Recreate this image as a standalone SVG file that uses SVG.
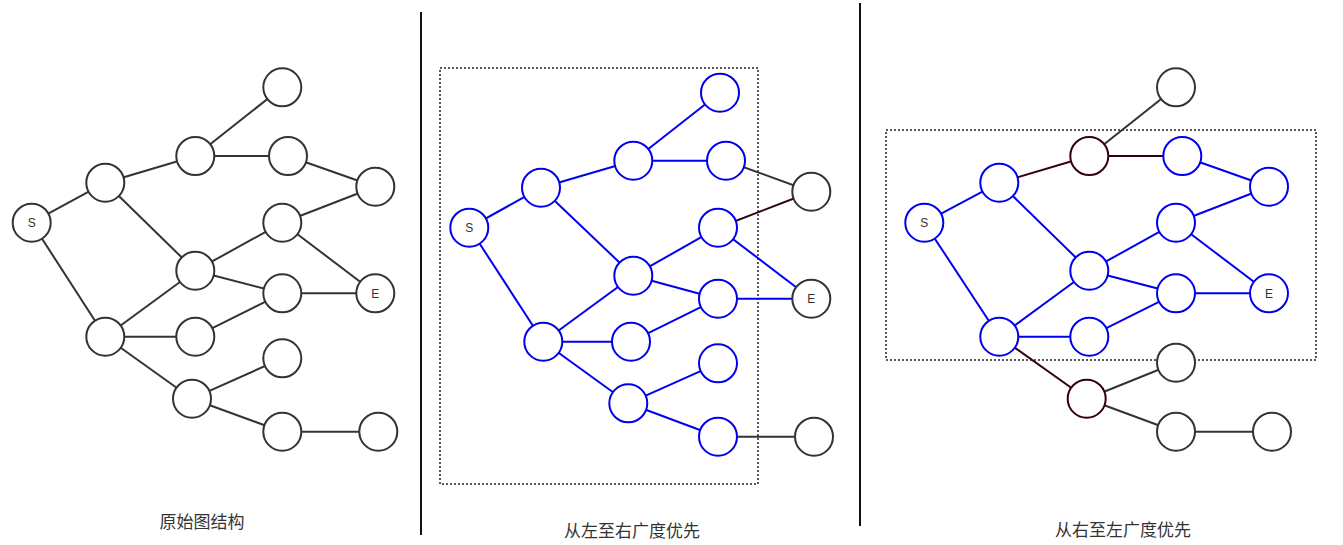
<svg xmlns="http://www.w3.org/2000/svg" width="1343" height="545" viewBox="0 0 1343 545">
<style>
.n{fill:#fff;stroke:#333;stroke-width:2}
.nb{fill:#fff;stroke:#0000ee;stroke-width:2}
.nm{fill:#fff;stroke:#330011;stroke-width:2}
.e{stroke:#333;stroke-width:2;fill:none}
.eb{stroke:#0000ee;stroke-width:2;fill:none}
.em{stroke:#330011;stroke-width:2;fill:none}
.t{font-family:"Liberation Sans","Noto Sans CJK SC",sans-serif;font-size:12px;fill:#333;text-anchor:middle}
.cap{font-family:"Noto Sans CJK SC","Liberation Sans",sans-serif;font-size:17px;fill:#333;text-anchor:middle}
.box{fill:none;stroke:#222;stroke-width:1.5;stroke-dasharray:2 2}
.sep{stroke:#111;stroke-width:2}
</style>
<rect width="1343" height="545" fill="#fff"/>
<g id="separators">
<line class="sep" x1="421" y1="12" x2="421" y2="535"/>
<line class="sep" x1="860" y1="3" x2="860" y2="526"/>
</g>
<g id="boxes">
<rect class="box" x="440" y="68" width="318" height="416"/>
<rect class="box" x="886" y="130" width="430" height="230"/>
</g>
<g id="connectors">
<!-- panel 1 -->
<line class="e" x1="31.7" y1="222.7" x2="105.3" y2="182.7"/>
<line class="e" x1="31.7" y1="222.7" x2="105.3" y2="336.7"/>
<line class="e" x1="105.3" y1="182.7" x2="195.3" y2="156"/>
<line class="e" x1="105.3" y1="182.7" x2="195.3" y2="270.7"/>
<line class="e" x1="195.3" y1="156" x2="282.3" y2="87.3"/>
<line class="e" x1="195.3" y1="156" x2="288" y2="156"/>
<line class="e" x1="288" y1="156" x2="375.3" y2="186.7"/>
<line class="e" x1="282.3" y1="222.7" x2="375.3" y2="186.7"/>
<line class="e" x1="282.3" y1="222.7" x2="375.3" y2="293.3"/>
<line class="e" x1="195.3" y1="270.7" x2="282.3" y2="222.7"/>
<line class="e" x1="195.3" y1="270.7" x2="282.3" y2="293.3"/>
<line class="e" x1="282.3" y1="293.3" x2="375.3" y2="293.3"/>
<line class="e" x1="105.3" y1="336.7" x2="195.3" y2="270.7"/>
<line class="e" x1="105.3" y1="336.7" x2="195.3" y2="336.7"/>
<line class="e" x1="195.3" y1="336.7" x2="282.3" y2="293.3"/>
<line class="e" x1="105.3" y1="336.7" x2="192" y2="398.7"/>
<line class="e" x1="192" y1="398.7" x2="282.3" y2="358.3"/>
<line class="e" x1="192" y1="398.7" x2="282.3" y2="431.7"/>
<line class="e" x1="282.3" y1="431.7" x2="378.3" y2="431.7"/>
<!-- panel 2 -->
<line class="eb" x1="469.3" y1="227.7" x2="541" y2="187.7"/>
<line class="eb" x1="469.3" y1="227.7" x2="543.3" y2="341.7"/>
<line class="eb" x1="541" y1="187.7" x2="633.3" y2="160.7"/>
<line class="eb" x1="541" y1="187.7" x2="633.3" y2="275.7"/>
<line class="eb" x1="633.3" y1="160.7" x2="720" y2="92.7"/>
<line class="eb" x1="633.3" y1="160.7" x2="726" y2="160.7"/>
<line class="e" x1="726" y1="160.7" x2="811.3" y2="191.7"/>
<line class="em" x1="718" y1="227.7" x2="811.3" y2="191.7"/>
<line class="eb" x1="718" y1="227.7" x2="811.3" y2="298.7"/>
<line class="eb" x1="633.3" y1="275.7" x2="718" y2="227.7"/>
<line class="eb" x1="633.3" y1="275.7" x2="718" y2="298.7"/>
<line class="eb" x1="718" y1="298.7" x2="811.3" y2="298.7"/>
<line class="eb" x1="543.3" y1="341.7" x2="633.3" y2="275.7"/>
<line class="eb" x1="543.3" y1="341.7" x2="631" y2="341.7"/>
<line class="eb" x1="631" y1="341.7" x2="718" y2="298.7"/>
<line class="eb" x1="543.3" y1="341.7" x2="628.3" y2="403.3"/>
<line class="eb" x1="628.3" y1="403.3" x2="718" y2="363.3"/>
<line class="eb" x1="628.3" y1="403.3" x2="718" y2="436.7"/>
<line class="e" x1="718" y1="436.7" x2="814" y2="436.7"/>
<!-- panel 3 -->
<line class="eb" x1="924.3" y1="222.7" x2="999.3" y2="182.7"/>
<line class="eb" x1="924.3" y1="222.7" x2="999.3" y2="336.7"/>
<line class="em" x1="999.3" y1="182.7" x2="1089.3" y2="156"/>
<line class="eb" x1="999.3" y1="182.7" x2="1089.3" y2="270.7"/>
<line class="e" x1="1089.3" y1="156" x2="1176" y2="87.3"/>
<line class="em" x1="1089.3" y1="156" x2="1182.3" y2="156"/>
<line class="eb" x1="1182.3" y1="156" x2="1269" y2="186.7"/>
<line class="eb" x1="1176" y1="222.7" x2="1269" y2="186.7"/>
<line class="eb" x1="1176" y1="222.7" x2="1269" y2="293.3"/>
<line class="eb" x1="1089.3" y1="270.7" x2="1176" y2="222.7"/>
<line class="eb" x1="1089.3" y1="270.7" x2="1176" y2="293.3"/>
<line class="eb" x1="1176" y1="293.3" x2="1269" y2="293.3"/>
<line class="eb" x1="999.3" y1="336.7" x2="1089.3" y2="270.7"/>
<line class="eb" x1="999.3" y1="336.7" x2="1089.3" y2="336.7"/>
<line class="eb" x1="1089.3" y1="336.7" x2="1176" y2="293.3"/>
<line class="em" x1="999.3" y1="336.7" x2="1086.7" y2="398.7"/>
<line class="e" x1="1086.7" y1="398.7" x2="1176" y2="362.7"/>
<line class="e" x1="1086.7" y1="398.7" x2="1176" y2="431.7"/>
<line class="e" x1="1176" y1="431.7" x2="1272" y2="431.7"/>
</g>
<g id="panel1">
<g id="p1-S"><circle class="n" cx="31.7" cy="222.7" r="19"/><text class="t" x="31.7" y="227">S</text></g>
<g id="p1-A1"><circle class="n" cx="105.3" cy="182.7" r="19"/></g>
<g id="p1-A2"><circle class="n" cx="105.3" cy="336.7" r="19"/></g>
<g id="p1-B1"><circle class="n" cx="195.3" cy="156" r="19"/></g>
<g id="p1-B2"><circle class="n" cx="195.3" cy="270.7" r="19"/></g>
<g id="p1-B3"><circle class="n" cx="195.3" cy="336.7" r="19"/></g>
<g id="p1-B4"><circle class="n" cx="192" cy="398.7" r="19"/></g>
<g id="p1-C1"><circle class="n" cx="282.3" cy="87.3" r="19"/></g>
<g id="p1-C2"><circle class="n" cx="288" cy="156" r="19"/></g>
<g id="p1-C3"><circle class="n" cx="282.3" cy="222.7" r="19"/></g>
<g id="p1-C4"><circle class="n" cx="282.3" cy="293.3" r="19"/></g>
<g id="p1-C5"><circle class="n" cx="282.3" cy="358.3" r="19"/></g>
<g id="p1-C6"><circle class="n" cx="282.3" cy="431.7" r="19"/></g>
<g id="p1-D1"><circle class="n" cx="375.3" cy="186.7" r="19"/></g>
<g id="p1-E"><circle class="n" cx="375.3" cy="293.3" r="19"/><text class="t" x="375.3" y="297.6">E</text></g>
<g id="p1-D3"><circle class="n" cx="378.3" cy="431.7" r="19"/></g>
<text class="cap" x="202" y="528">原始图结构</text>
</g>
<g id="panel2">
<g id="p2-S"><circle class="nb" cx="469.3" cy="227.7" r="19"/><text class="t" x="469.3" y="232">S</text></g>
<g id="p2-A1"><circle class="nb" cx="541" cy="187.7" r="19"/></g>
<g id="p2-A2"><circle class="nb" cx="543.3" cy="341.7" r="19"/></g>
<g id="p2-B1"><circle class="nb" cx="633.3" cy="160.7" r="19"/></g>
<g id="p2-B2"><circle class="nb" cx="633.3" cy="275.7" r="19"/></g>
<g id="p2-B3"><circle class="nb" cx="631" cy="341.7" r="19"/></g>
<g id="p2-B4"><circle class="nb" cx="628.3" cy="403.3" r="19"/></g>
<g id="p2-C1"><circle class="nb" cx="720" cy="92.7" r="19"/></g>
<g id="p2-C2"><circle class="nb" cx="726" cy="160.7" r="19"/></g>
<g id="p2-C3"><circle class="nb" cx="718" cy="227.7" r="19"/></g>
<g id="p2-C4"><circle class="nb" cx="718" cy="298.7" r="19"/></g>
<g id="p2-C5"><circle class="nb" cx="718" cy="363.3" r="19"/></g>
<g id="p2-C6"><circle class="nb" cx="718" cy="436.7" r="19"/></g>
<g id="p2-D1"><circle class="n" cx="811.3" cy="191.7" r="19"/></g>
<g id="p2-E"><circle class="n" cx="811.3" cy="298.7" r="19"/><text class="t" x="811.3" y="303">E</text></g>
<g id="p2-D3"><circle class="n" cx="814" cy="436.7" r="19"/></g>
<text class="cap" x="632" y="537">从左至右广度优先</text>
</g>
<g id="panel3">
<g id="p3-S"><circle class="nb" cx="924.3" cy="222.7" r="19"/><text class="t" x="924.3" y="227">S</text></g>
<g id="p3-A1"><circle class="nb" cx="999.3" cy="182.7" r="19"/></g>
<g id="p3-A2"><circle class="nb" cx="999.3" cy="336.7" r="19"/></g>
<g id="p3-B1"><circle class="nm" cx="1089.3" cy="156" r="19"/></g>
<g id="p3-B2"><circle class="nb" cx="1089.3" cy="270.7" r="19"/></g>
<g id="p3-B3"><circle class="nb" cx="1089.3" cy="336.7" r="19"/></g>
<g id="p3-B4"><circle class="nm" cx="1086.7" cy="398.7" r="19"/></g>
<g id="p3-C1"><circle class="n" cx="1176" cy="87.3" r="19"/></g>
<g id="p3-C2"><circle class="nb" cx="1182.3" cy="156" r="19"/></g>
<g id="p3-C3"><circle class="nb" cx="1176" cy="222.7" r="19"/></g>
<g id="p3-C4"><circle class="nb" cx="1176" cy="293.3" r="19"/></g>
<g id="p3-C5"><circle class="n" cx="1176" cy="362.7" r="19"/></g>
<g id="p3-C6"><circle class="n" cx="1176" cy="431.7" r="19"/></g>
<g id="p3-D1"><circle class="nb" cx="1269" cy="186.7" r="19"/></g>
<g id="p3-E"><circle class="nb" cx="1269" cy="293.3" r="19"/><text class="t" x="1269" y="297.6">E</text></g>
<g id="p3-D3"><circle class="n" cx="1272" cy="431.7" r="19"/></g>
<text class="cap" x="1123" y="536">从右至左广度优先</text>
</g>
</svg>
